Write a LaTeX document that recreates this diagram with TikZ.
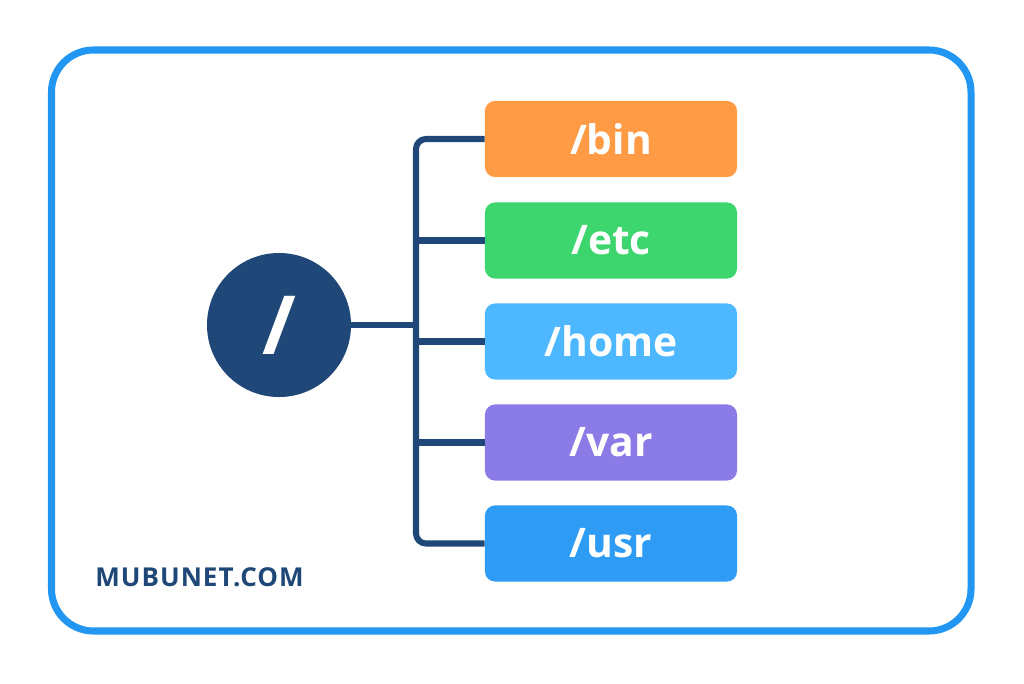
\documentclass[tikz,border=0pt]{standalone}
\usepackage{fontspec}
\setmainfont{Open Sans}
\newfontfamily\logofont[LetterSpace=4]{Open Sans}
\usepackage{tikz}

\definecolor{frameblue}{RGB}{33,150,243}
\definecolor{navy}{RGB}{31,72,120}
\definecolor{binorange}{RGB}{255,154,69}
\definecolor{etcgreen}{RGB}{61,214,110}
\definecolor{homeblue}{RGB}{77,184,255}
\definecolor{varpurple}{RGB}{138,123,230}
\definecolor{usrblue}{RGB}{46,155,245}

\tikzset{
  dirbox/.style={fill=#1, text=white, rounded corners=0.25cm,
    minimum width=6.3cm, minimum height=1.9cm, inner sep=0pt,
    font=\fontsize{29}{32}\selectfont\bfseries},
  branch/.style={draw=navy, line width=4.3pt}
}

\begin{document}
\begin{tikzpicture}[x=0.025cm,y=-0.025cm]
\useasboundingbox (0,0) rectangle (1024,683);
\fill[white] (0,0) rectangle (1024,683);
\draw[frameblue, line width=5pt, rounded corners=1.05cm] (51.5,50) rectangle (971,631);

% root of the tree
\node[circle, fill=navy, minimum size=3.6cm, inner sep=0pt, text=white,
  font=\fontsize{58}{60}\selectfont\bfseries] (root) at (279,325) {/};
\coordinate (trunk) at (416,325);

% one box per directory
\foreach \name/\col/\y in {bin/binorange/139, etc/etcgreen/240.5, home/homeblue/341.5,
  var/varpurple/442.5, usr/usrblue/543.5} {
  \node[dirbox=\col] (\name) at (611,\y) {/\name};
}

\draw[branch] (root) -- (trunk);
\draw[branch, rounded corners=0.25cm] (bin.west) -| (trunk) |- (usr.west);
\foreach \name in {etc,home,var} {
  \draw[branch] (\name.west) -- (\name.west -| trunk);
}

\node[anchor=base west, text=navy, inner sep=0pt,
  font=\logofont\fontsize{18.5}{20}\selectfont\bfseries] (logo) at (95,586) {MUBUNET.COM};
\end{tikzpicture}
\end{document}
